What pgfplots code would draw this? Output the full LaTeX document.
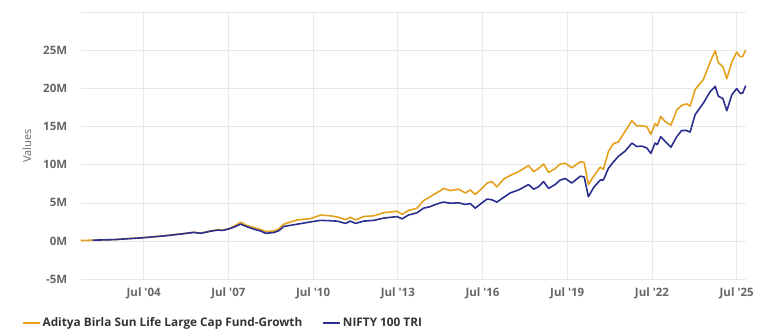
\documentclass[border=0pt]{standalone}
\usepackage{fontspec}
\setmainfont{Open Sans}
\usepackage{pgfplots}
\pgfplotsset{compat=1.18}
\definecolor{fundorange}{RGB}{229,160,30}
\definecolor{niftyblue}{RGB}{43,47,142}
\definecolor{ticktext}{RGB}{102,102,102}
\definecolor{gridc}{RGB}{232,232,232}
\begin{document}
\begin{tikzpicture}[x=1pt,y=1pt]
\path (0,0) rectangle (760,336);
\begin{axis}[
  at={(80.7pt,57pt)}, anchor=south west,
  scale only axis, width=665.3pt, height=266.5pt,
  xmin=2002.27, xmax=2025.83,
  ymin=-5, ymax=30,
  axis line style={draw=none},
  major tick length=0pt,
  xtick={2004.5,2007.5,2010.5,2013.5,2016.5,2019.5,2022.5,2025.5},
  xticklabels={Jul \textquotesingle04,Jul \textquotesingle07,Jul \textquotesingle10,Jul \textquotesingle13,Jul \textquotesingle16,Jul \textquotesingle19,Jul \textquotesingle22,Jul \textquotesingle25},
  ytick={-5,0,5,10,15,20,25,30},
  yticklabels={-5M,0M,5M,10M,15M,20M,25M,{}},
  xmajorgrids, ymajorgrids,
  major grid style={draw=gridc, line width=0.7pt},
  ticklabel style={font=\fontsize{11.5}{13}\selectfont\bfseries, text=ticktext},
  xticklabel style={yshift=-5pt},
  yticklabel style={xshift=-10pt},
  ylabel={Values},
  ylabel style={font=\fontsize{11}{13}\selectfont, text=ticktext, at={(axis description cs:-0.0807,0.5)}, anchor=center},
  legend columns=2,
  legend style={draw=none, fill=none, at={(axis description cs:-0.093,-0.165)}, anchor=west,
    font=\fontsize{11.8}{13}\selectfont\bfseries, text=black!80,
    /tikz/every even column/.append style={column sep=18pt}},
  legend image code/.code={\draw[#1, line width=1.6pt] (0pt,0pt) -- (17pt,0pt);},
  clip=false,
]
\addplot[fundorange, line width=1.6pt, line join=round] coordinates {
(2002.27,0.05) (2002.69,0.1) (2003.45,0.17) (2004.51,0.43) (2005.22,0.66)
(2005.81,0.92) (2006.28,1.14) (2006.52,1.02) (2006.87,1.31) (2007.11,1.45)
(2007.30,1.40) (2007.52,1.62) (2007.69,1.9) (2007.93,2.45) (2008.17,2.0)
(2008.40,1.75) (2008.64,1.5) (2008.82,1.23) (2009.11,1.3) (2009.29,1.6)
(2009.46,2.2) (2009.94,2.76) (2010.41,2.93) (2010.76,3.4) (2011.11,3.3)
(2011.35,3.15) (2011.65,2.8) (2011.82,3.1) (2012.0,2.76) (2012.29,3.2)
(2012.65,3.3) (2013.0,3.7) (2013.24,3.8) (2013.47,3.9) (2013.65,3.5)
(2013.88,4.0) (2014.18,4.3) (2014.41,5.3) (2014.65,5.8) (2014.77,6.1)
(2015.01,6.6) (2015.12,6.9) (2015.36,6.6) (2015.65,6.8) (2015.89,6.3)
(2016.07,6.7) (2016.24,6.1) (2016.48,6.9) (2016.66,7.6) (2016.83,7.8)
(2017.01,7.1) (2017.24,8.1) (2017.48,8.6) (2017.78,9.1) (2018.13,9.9)
(2018.31,9.1) (2018.48,9.5) (2018.66,10.1) (2018.84,9.0) (2019.07,9.5)
(2019.25,10.1) (2019.43,10.2) (2019.66,9.6) (2019.96,10.4) (2020.10,10.3)
(2020.25,7.4) (2020.43,8.46) (2020.67,9.7) (2020.78,9.4) (2020.96,11.75)
(2021.14,12.8) (2021.31,13.0) (2021.55,14.4) (2021.79,15.8) (2021.96,15.1)
(2022.14,15.1) (2022.32,15.0) (2022.46,14.0) (2022.61,15.4) (2022.69,15.1)
(2022.81,16.35) (2022.96,15.7) (2023.17,15.2) (2023.38,17.2) (2023.55,17.8)
(2023.73,18.0) (2023.85,17.7) (2024.03,19.9) (2024.32,21.2) (2024.56,23.5)
(2024.74,25.0) (2024.85,23.4) (2025.01,22.9) (2025.15,21.3) (2025.33,23.5)
(2025.50,24.8) (2025.62,24.2) (2025.71,24.2) (2025.82,25.1)
};
\addlegendentry{Aditya Birla Sun Life Large Cap Fund-Growth}
\addplot[niftyblue, line width=1.6pt, line join=round] coordinates {
(2002.69,0.1) (2003.45,0.17) (2004.51,0.43) (2005.22,0.66) (2005.81,0.9)
(2006.28,1.12) (2006.52,1.0) (2006.87,1.28) (2007.11,1.42) (2007.30,1.38)
(2007.52,1.58) (2007.69,1.8) (2007.93,2.2) (2008.17,1.85) (2008.40,1.55)
(2008.64,1.3) (2008.82,1.0) (2009.11,1.1) (2009.29,1.35) (2009.46,1.9)
(2009.94,2.2) (2010.41,2.5) (2010.76,2.7) (2011.11,2.65) (2011.35,2.6)
(2011.65,2.3) (2011.82,2.6) (2012.0,2.3) (2012.29,2.6) (2012.65,2.7)
(2013.0,3.0) (2013.24,3.1) (2013.47,3.2) (2013.65,2.9) (2013.88,3.4)
(2014.18,3.7) (2014.41,4.3) (2014.65,4.5) (2014.77,4.7) (2015.01,5.0)
(2015.12,5.1) (2015.36,4.95) (2015.65,5.0) (2015.89,4.8) (2016.07,4.9)
(2016.24,4.3) (2016.48,5.0) (2016.66,5.5) (2016.83,5.4) (2017.01,5.1)
(2017.24,5.7) (2017.48,6.3) (2017.78,6.7) (2018.13,7.4) (2018.31,6.8)
(2018.48,7.1) (2018.66,7.8) (2018.84,6.9) (2019.07,7.4) (2019.25,8.0)
(2019.43,8.2) (2019.66,7.6) (2019.96,8.5) (2020.10,8.4) (2020.25,5.8)
(2020.43,7.0) (2020.67,8.0) (2020.78,8.0) (2020.96,9.56) (2021.14,10.4)
(2021.31,11.1) (2021.55,11.8) (2021.79,12.85) (2021.96,12.4) (2022.14,12.45)
(2022.32,12.2) (2022.46,11.5) (2022.61,12.85) (2022.69,12.65) (2022.81,13.7)
(2022.96,13.1) (2023.17,12.3) (2023.38,13.7) (2023.55,14.5) (2023.73,14.5)
(2023.85,14.3) (2024.03,16.6) (2024.32,18.1) (2024.56,19.6) (2024.74,20.3)
(2024.85,19.0) (2025.01,18.7) (2025.15,17.1) (2025.33,19.2) (2025.50,20.0)
(2025.62,19.4) (2025.71,19.4) (2025.82,20.4)
};
\addlegendentry{NIFTY 100 TRI}
\end{axis}
\end{tikzpicture}
\end{document}
